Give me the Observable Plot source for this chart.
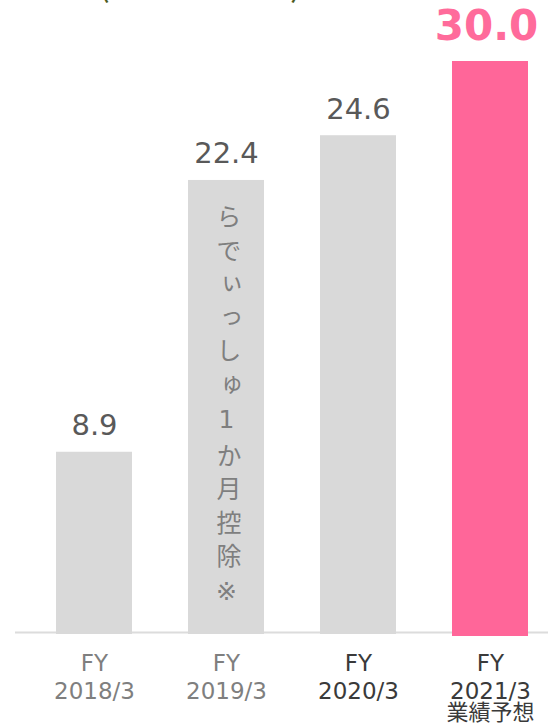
<!DOCTYPE html>
<html>
<head>
<meta charset="utf-8">
<script src="https://cdn.jsdelivr.net/npm/d3@7"></script>
<script src="https://cdn.jsdelivr.net/npm/@observablehq/plot@0.6"></script>
<style>
html, body { margin: 0; padding: 0; background: #fff; overflow: hidden; width: 548px; height: 726px; }
#wrap { position: relative; width: 548px; height: 726px; }
#title { position: absolute; left: 0; width: 400px; text-align: center; top: -46px; font-family: "Noto Sans CJK JP"; font-size: 36px; line-height: normal; color: #4d5b1f; white-space: nowrap; }
#chart { position: absolute; left: 0; top: 0; }
</style>
</head>
<body>
<div id="wrap">
  <div id="title">(単位：億円)</div>
  <div id="chart"></div>
</div>
<script>
// ---- data ----
const categories = ["FY2018/3", "FY2019/3", "FY2020/3", "FY2021/3"];
const tickLabels = ["FY\n2018/3", "FY\n2019/3", "FY\n2020/3", "FY\n2021/3"];
const subLabels = ["", "", "", "業績予想"];
const values = [8.9, 22.4, 24.6, 30.0];
const valueLabels = ["8.9", "22.4", "24.6", "30.0"];
// bar lengths as drawn in the picture (same scale as the 30.0 bar)
const barHeights = [9.47, 23.75, 26.1, 30.0];
const isForecast = [false, false, false, true];
const noteCategory = "FY2019/3";
const noteText = "らでぃっしゅ1か月控除※";

const data = categories.map((cat, i) => ({
  cat,
  tick: tickLabels[i],
  sub: subLabels[i],
  value: values[i],
  label: valueLabels[i],
  h: barHeights[i],
  forecast: isForecast[i]
}));
const past = data.filter(d => !d.forecast);
const future = data.filter(d => d.forecast);
const noteData = data.filter(d => d.cat === noteCategory);

const FONT = '"DejaVu Sans", "Noto Sans CJK JP", sans-serif';

const chart = Plot.plot({
  width: 548,
  height: 726,
  marginTop: 61,
  marginBottom: 94,
  marginLeft: 15,
  marginRight: 0,
  x: { domain: categories, range: [28, 556], paddingInner: 0.425, paddingOuter: 0.2125, axis: null },
  y: { domain: [0, 30], axis: null },
  style: { fontFamily: FONT, background: "transparent", overflow: "visible" },
  marks: [
    Plot.ruleY([0], { stroke: "#dcdcdc", strokeWidth: 2 }),
    Plot.barY(past, { x: "cat", y: "h", fill: "#d9d9d9", insetBottom: -2 }),
    Plot.barY(future, { x: "cat", y: "h", fill: "#ff6699", insetBottom: -4 }),
    Plot.text(past, { x: "cat", y: "h", text: "label", dy: -17, lineAnchor: "bottom", fontSize: 29, fill: "#595959" }),
    Plot.text(future, { x: "cat", y: "h", text: "label", dy: -22, dx: -4, lineAnchor: "bottom", fontSize: 42, fontWeight: "bold", fill: "#ff6b9b" }),
    Plot.text(data, { x: "cat", y: () => 0, text: "tick", lineAnchor: "top", dy: 19, fontSize: 23, lineHeight: 1.22,
      fill: d => (d.forecast || d.cat === "FY2020/3") ? "#3a3a3a" : "#7f7f7f" }),
    Plot.text(data, { x: "cat", y: () => 0, text: "sub", lineAnchor: "top", dy: 72, fontSize: 22, fill: "#3a3a3a" }),
    Plot.text(noteData, { x: "cat", y: "h", text: () => noteText, textAnchor: "start", lineAnchor: "bottom", dy: 24, fontSize: 25, fill: "#7f7f7f" })
  ]
});

for (const t of chart.querySelectorAll("text")) {
  if (t.textContent === noteText) {
    t.style.writingMode = "vertical-rl";
    t.style.textOrientation = "upright";
    t.style.letterSpacing = "8.5px";
  }
}
document.getElementById("chart").appendChild(chart);
</script>
</body>
</html>
